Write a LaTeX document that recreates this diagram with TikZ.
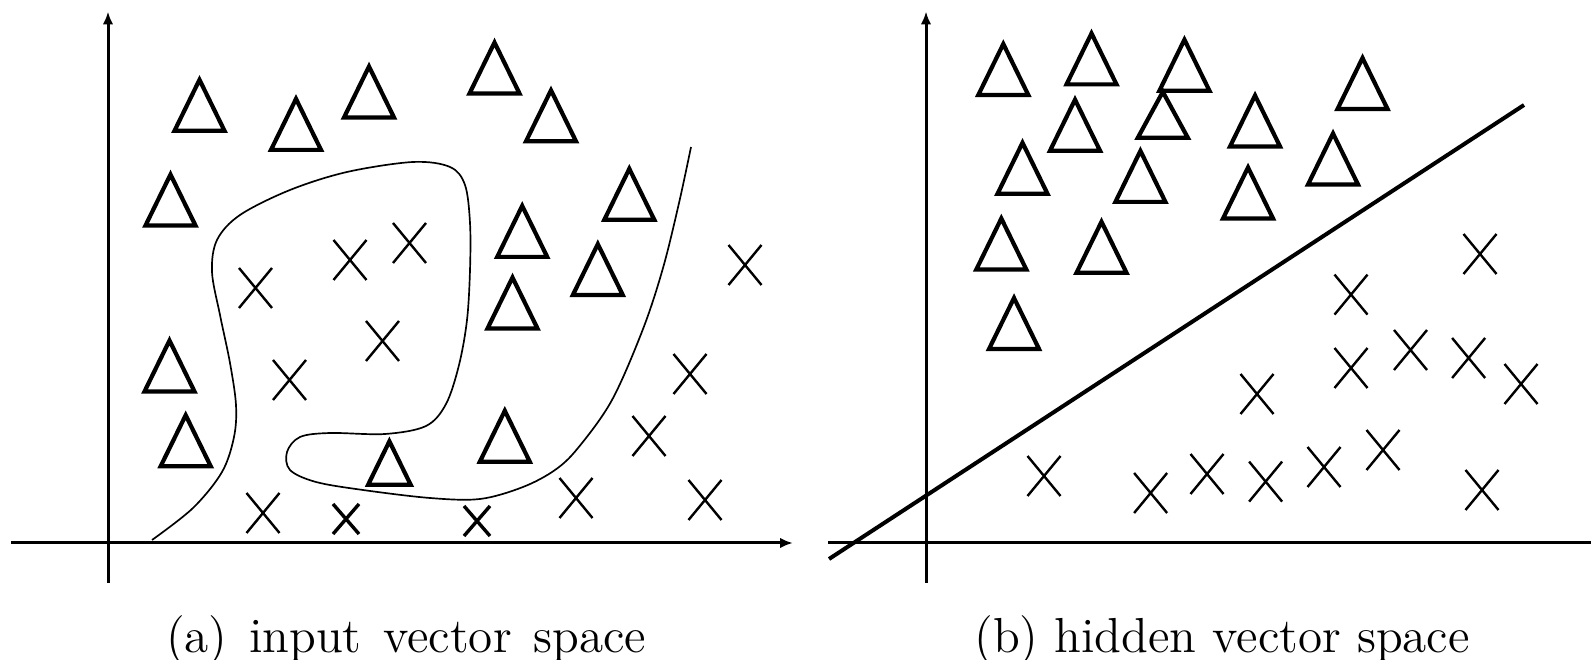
\documentclass[tikz,border=0pt]{standalone}
\usepackage{fontspec}
\usetikzlibrary{arrows.meta}
\tikzset{
  axis/.style={line width=0.75pt,-{Latex[length=3.2pt,width=2.6pt]}},
  axisplain/.style={line width=0.75pt},
  tristy/.style={line width=1.05pt,line join=miter},
  crsty/.style={line width=0.6pt},
  crbold/.style={line width=0.85pt},
  bound/.style={line width=0.42pt},
  sep/.style={line width=1pt},
  caption/.style={anchor=base,inner sep=0pt,font=\fontsize{12.3}{14}\selectfont},
  tri/.pic={\draw[tristy] (-25,25.5) -- (0,-25.5) -- (25,25.5) -- cycle;},
  cross/.pic={\draw[crsty] (-16.5,-20) -- (16.5,20) (-16.5,20) -- (16.5,-20);},
  smallcross/.pic={\draw[crbold] (-13,-15) -- (13,15) (-13,15) -- (13,-15);}
}
\begin{document}
\begin{tikzpicture}[x=0.25pt,y=-0.25pt]
\useasboundingbox (0,0) rectangle (1591,660);
% ---------- left panel ----------
\coordinate (ly0) at (108,583);
\coordinate (ly1) at (108,11.5);
\coordinate (lx0) at (11,543);
\coordinate (lx1) at (793,543);
\draw[axis] (ly0) -- (ly1);
\draw[axis] (lx0) -- (lx1);
% triangles
\foreach \p in {(199.5,105.3),(296,124.4),(369,92),(494.5,68),(551,115.8),
  (170.5,200),(629.3,194.3),(522.2,231.4),(597.8,269.6),(512.5,303),
  (169.5,366),(185.7,440.7),(504.8,436.3)}
  \pic at \p {tri};
\pic[scale=0.85] at (389.4,463) {tri};
% crosses
\foreach \p in {(255.5,288),(350,260),(409.5,243),(382.5,341),(289.5,380),
  (745,265),(690,374),(649,436),(576,498),(705,500),(263,513)}
  \pic at \p {cross};
\pic at (346,519) {smallcross};
\pic at (477,521) {smallcross};
% decision boundary
\draw[bound] plot[smooth,tension=0.55] coordinates {
  (152,540) (193,508) (222,472) (234,437) (236,405) (230,363) (220,315)
  (212,272) (217,240) (240,215) (290,190) (347,172) (413,162) (450,167)
  (465,185) (470,223) (470,270) (467,320) (459,365) (446,404) (426,426)
  (385,434) (330,433) (300,437) (287,452) (290,470) (316,482) (363,490)
  (430,498) (480,499) (523,487) (555,470) (578,448) (612,400) (643,329)
  (663,268) (679,203) (691,147)};
\node[caption] (capa) at (406,653) {\spaceskip=5.4pt plus 1pt (a) input vector space};
% ---------- right panel ----------
\coordinate (ry0) at (926,583);
\coordinate (ry1) at (926,11.5);
\coordinate (rx0) at (828,543);
\coordinate (rx1) at (1591,543);
\draw[axis] (ry0) -- (ry1);
\draw[axisplain] (rx0) -- (rx1);
\coordinate (s0) at (829,559);
\coordinate (s1) at (1524,105);
\draw[sep] (s0) -- (s1);
\foreach \p in {(1003.3,69.5),(1091.5,58.9),(1184.4,65.2),(1362.5,83.5),
  (1075,125.2),(1255,121),(1333,159),(1022.5,168.3),(1140.4,176.4),
  (1248,193),(1001.3,244),(1101.5,247.3),(1014,323.5)}
  \pic at \p {tri};
\pic[yscale=0.9] at (1162.8,114.8) {tri};
\foreach \p in {(1480,254),(1351,294.6),(1410.5,350),(1351,368),(1468.6,358),
  (1521,384),(1257,394),(1383,450),(1044,476),(1150.6,493),(1207,474),
  (1265.6,481.6),(1324,467),(1482,490)}
  \pic at \p {cross};
\node[caption] (capb) at (1222,653) {(b) hidden vector space};
\end{tikzpicture}
\end{document}
